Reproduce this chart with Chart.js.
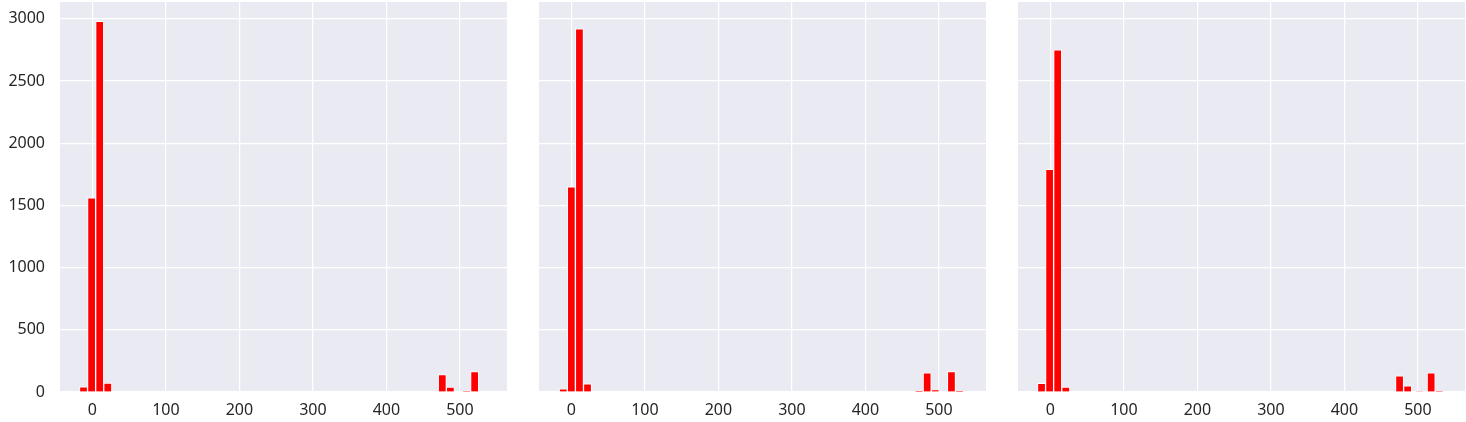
<!DOCTYPE html>
<html>
<head>
<meta charset="utf-8">
<script src="https://cdn.jsdelivr.net/npm/chart.js@4"></script>
<style>
  html, body { margin: 0; padding: 0; background: #ffffff; }
  #wrap { position: relative; width: 1466px; height: 422px; }
  .panel { position: absolute; top: 0; height: 422px; }
</style>
</head>
<body>
<div id="wrap">
  <div class="panel" style="left:0px;width:507px;"><canvas id="c1"></canvas></div>
  <div class="panel" style="left:539px;width:447px;"><canvas id="c2"></canvas></div>
  <div class="panel" style="left:1018px;width:447px;"><canvas id="c3"></canvas></div>
</div>
<script>
// ---- data (histogram bin centres and counts) ----
const binCenters1 = [-12, -1, 10, 21, 476, 487, 509, 520];
const counts1     = [42, 1560, 2980, 72, 140, 40, 6, 165];

const binCenters2 = [-11, 0, 11, 22, 473, 484, 495, 517, 528];
const counts2     = [25, 1650, 2920, 65, 2, 155, 16, 165, 2];

const binCenters3 = [-12, -1, 10, 21, 475, 486, 502, 518, 529];
const counts3     = [70, 1790, 2750, 40, 130, 50, 4, 155, 3];

const xTickValues = [0, 100, 200, 300, 400, 500];
const yTickValues = [0, 500, 1000, 1500, 2000, 2500, 3000];

const X_MIN = -44, X_MAX = 564;
const Y_MIN = 0, Y_MAX = 3135;

const FONT = { family: "'Noto Sans', sans-serif", size: 16 };
const TEXT = '#262626';

const bgPlugin = {
  id: 'plotBg',
  beforeDraw(chart) {
    const a = chart.chartArea, ctx = chart.ctx;
    ctx.save();
    ctx.fillStyle = '#EAEAF2';
    ctx.fillRect(a.left, a.top, a.right - a.left, a.bottom - a.top);
    ctx.restore();
  }
};

function makeChart(id, centers, counts, showY) {
  const pts = centers.map((c, i) => ({ x: c, y: counts[i] }));
  return new Chart(document.getElementById(id), {
    type: 'bar',
    data: {
      datasets: [{
        data: pts,
        backgroundColor: '#FF0000',
        borderColor: '#FFFFFF',
        borderWidth: 1,
        barPercentage: 1.0,
        categoryPercentage: 1.0
      }]
    },
    options: {
      responsive: true,
      maintainAspectRatio: false,
      animation: false,
      events: [],
      layout: { padding: { top: 2, right: 0, left: 0, bottom: 0 }, autoPadding: false },
      plugins: { legend: { display: false }, tooltip: { enabled: false } },
      scales: {
        x: {
          type: 'linear',
          min: X_MIN, max: X_MAX,
          offset: false,
          border: { display: false },
          grid: { color: '#FFFFFF', lineWidth: 1.2, drawTicks: false, offset: false },
          ticks: { color: TEXT, font: FONT, padding: 9, stepSize: 100, maxRotation: 0, autoSkip: false,
                   callback: v => String(v) },
          afterBuildTicks(scale) { scale.ticks = xTickValues.map(v => ({ value: v })); },
          afterFit(scale) { scale.height = 30; scale.paddingLeft = 0; scale.paddingRight = 0; }
        },
        y: {
          type: 'linear',
          min: Y_MIN, max: Y_MAX,
          border: { display: false },
          grid: { color: '#FFFFFF', lineWidth: 1.2, drawTicks: false, offset: false },
          ticks: { display: showY, color: TEXT, font: FONT, padding: 15, stepSize: 500,
                   callback: v => String(v) },
          afterBuildTicks(scale) { scale.ticks = yTickValues.map(v => ({ value: v })); },
          afterFit(scale) { scale.width = showY ? 60 : 0; scale.paddingTop = 0; scale.paddingBottom = 0; }
        }
      }
    },
    plugins: [bgPlugin]
  });
}

makeChart('c1', binCenters1, counts1, true);
makeChart('c2', binCenters2, counts2, false);
makeChart('c3', binCenters3, counts3, false);
</script>
</body>
</html>
